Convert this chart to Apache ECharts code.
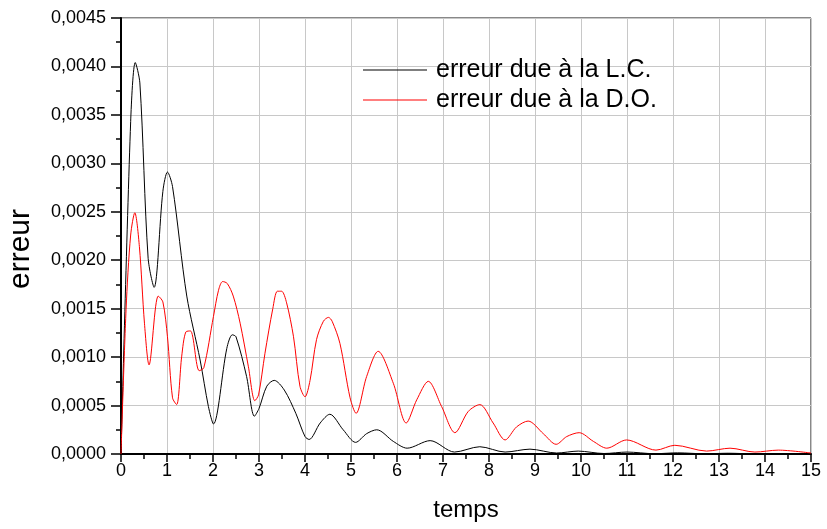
<!DOCTYPE html>
<html>
<head>
<meta charset="utf-8">
<script src="https://cdn.jsdelivr.net/npm/echarts@6/dist/echarts.min.js"></script>
<style>
  html, body { margin: 0; padding: 0; background: #fff; }
  #chart { width: 827px; height: 529px; }
</style>
</head>
<body>
<div id="chart"></div>
<script>
// Erreur due à la L.C. (courbe noire)
const lcTime = [0, 0.21, 0.31, 0.41, 0.59, 0.72, 0.91, 1.01, 1.12, 1.43, 1.72, 1.90, 2.01, 2.30, 2.42, 2.50, 2.73, 2.90, 3.00, 3.17, 3.33, 3.55, 3.80, 4.00, 4.09, 4.33, 4.54, 4.83, 5.10, 5.34, 5.56, 5.92, 6.22, 6.72, 7.25, 7.80, 8.35, 8.89, 9.47, 9.94, 10.5, 11.0, 11.6, 12.1, 12.7, 13.2, 13.8, 14.3, 15];
const lcErr  = [0, 0.00343, 0.00404, 0.00383, 0.00202, 0.00172, 0.00271, 0.00291, 0.00276, 0.00163, 0.00097, 0.00049, 0.00031, 0.00109, 0.00123, 0.00121, 0.0008, 0.00039, 0.00047, 0.0007, 0.00076, 0.00066, 0.00042, 0.00018, 0.00015, 0.00032, 0.00041, 0.00025, 0.00012, 0.00021, 0.00025, 0.00013, 0.00006, 0.000138, 0.00002, 0.000075, 0.00002, 0.00005, 0.00001, 0.00003, 0.000005, 0.00002, 0.000003, 0.000012, 0.000002, 0.000008, 0.000001, 0.000005, 0.000002];

// Erreur due à la D.O. (courbe rouge)
const doTime = [0, 0.11, 0.21, 0.30, 0.40, 0.51, 0.61, 0.81, 0.91, 1.01, 1.12, 1.21, 1.32, 1.41, 1.51, 1.70, 1.80, 2.01, 2.12, 2.21, 2.31, 2.44, 2.59, 2.77, 2.91, 2.99, 3.13, 3.30, 3.40, 3.49, 3.60, 3.75, 3.89, 4.00, 4.11, 4.25, 4.40, 4.51, 4.59, 4.76, 4.98, 5.11, 5.34, 5.59, 5.92, 6.20, 6.43, 6.68, 6.97, 7.26, 7.55, 7.80, 8.09, 8.35, 8.60, 8.85, 9.18, 9.46, 9.69, 9.96, 10.27, 10.56, 10.99, 11.63, 12.04, 12.73, 13.24, 13.78, 14.29, 15];
const doErr  = [0, 0.00149, 0.00226, 0.00249, 0.00214, 0.00135, 0.00092, 0.00163, 0.00157, 0.00121, 0.00058, 0.00051, 0.00101, 0.00126, 0.00127, 0.00086, 0.00089, 0.00142, 0.00169, 0.00178, 0.00176, 0.00163, 0.00135, 0.0009, 0.00055, 0.00061, 0.00104, 0.0015, 0.00168, 0.00168, 0.00156, 0.00121, 0.0007, 0.00059, 0.00076, 0.00118, 0.00137, 0.00141, 0.00137, 0.00114, 0.00058, 0.00042, 0.0008, 0.00106, 0.00073, 0.00032, 0.00056, 0.00075, 0.00049, 0.00022, 0.00044, 0.00051, 0.00032, 0.000145, 0.00028, 0.00034, 0.00021, 0.0001, 0.00018, 0.00022, 0.00013, 0.00006, 0.000145, 0.00004, 0.00009, 0.00003, 0.00006, 0.00002, 0.00004, 0.00001];

const seriesNames = ['erreur due à la L.C.', 'erreur due à la D.O.'];

const FONT = '"Liberation Sans", Arial, sans-serif';

function pairs(xs, ys) {
  return xs.map((x, i) => [x, ys[i]]);
}

const chart = echarts.init(document.getElementById('chart'), null, { renderer: 'canvas' });

chart.setOption({
  animation: false,
  backgroundColor: '#fff',
  textStyle: { fontFamily: FONT },
  grid: {
    left: 121, right: 16, top: 18, bottom: 75,
    outerBoundsMode: 'none',
    show: true, borderColor: '#111', borderWidth: 1, backgroundColor: 'transparent'
  },
  legend: {
    orient: 'vertical',
    left: 358, top: 50,
    icon: 'rect',
    itemWidth: 64, itemHeight: 1, itemGap: 0,
    data: seriesNames,
    textStyle: { fontSize: 25, color: '#000', fontFamily: FONT, padding: [0, 0, 0, 4], lineHeight: 30 }
  },
  xAxis: {
    type: 'value', min: 0, max: 15, interval: 1,
    name: 'temps', nameLocation: 'middle', nameGap: 44,
    nameTextStyle: { fontSize: 24, color: '#000', fontFamily: FONT },
    axisLine: { lineStyle: { color: '#000', width: 2 } },
    axisTick: { length: 8, lineStyle: { color: '#000', width: 1.5 } },
    minorTick: { show: true, splitNumber: 2, length: 5, lineStyle: { color: '#000', width: 1.5 } },
    axisLabel: { fontSize: 18, color: '#000', margin: 8, fontFamily: FONT },
    splitLine: { show: true, lineStyle: { color: '#c8c8c8', width: 1 } }
  },
  yAxis: {
    type: 'value', min: 0, max: 0.0045, interval: 0.0005,
    name: 'erreur', nameLocation: 'middle', nameGap: 85, nameRotate: 90,
    nameTextStyle: { fontSize: 30, color: '#000', fontFamily: FONT, padding: [0, 26, 0, 0] },
    axisLine: { show: true, lineStyle: { color: '#000', width: 2 } },
    axisTick: { show: true, length: 10, lineStyle: { color: '#000', width: 1.5 } },
    minorTick: { show: true, splitNumber: 2, length: 5, lineStyle: { color: '#000', width: 1.5 } },
    axisLabel: {
      fontSize: 18, color: '#000', margin: 15, fontFamily: FONT,
      formatter: v => v.toFixed(4).replace('.', ',')
    },
    splitLine: { show: true, lineStyle: { color: '#c8c8c8', width: 1 } }
  },
  series: [
    {
      name: seriesNames[0], type: 'line', data: pairs(lcTime, lcErr),
      symbol: 'none', smooth: 0.3,
      lineStyle: { color: '#000', width: 1 }, itemStyle: { color: '#000' }
    },
    {
      name: seriesNames[1], type: 'line', data: pairs(doTime, doErr),
      symbol: 'none', smooth: 0.3,
      lineStyle: { color: '#ff0000', width: 1 }, itemStyle: { color: '#ff0000' }
    }
  ]
});
</script>
</body>
</html>
